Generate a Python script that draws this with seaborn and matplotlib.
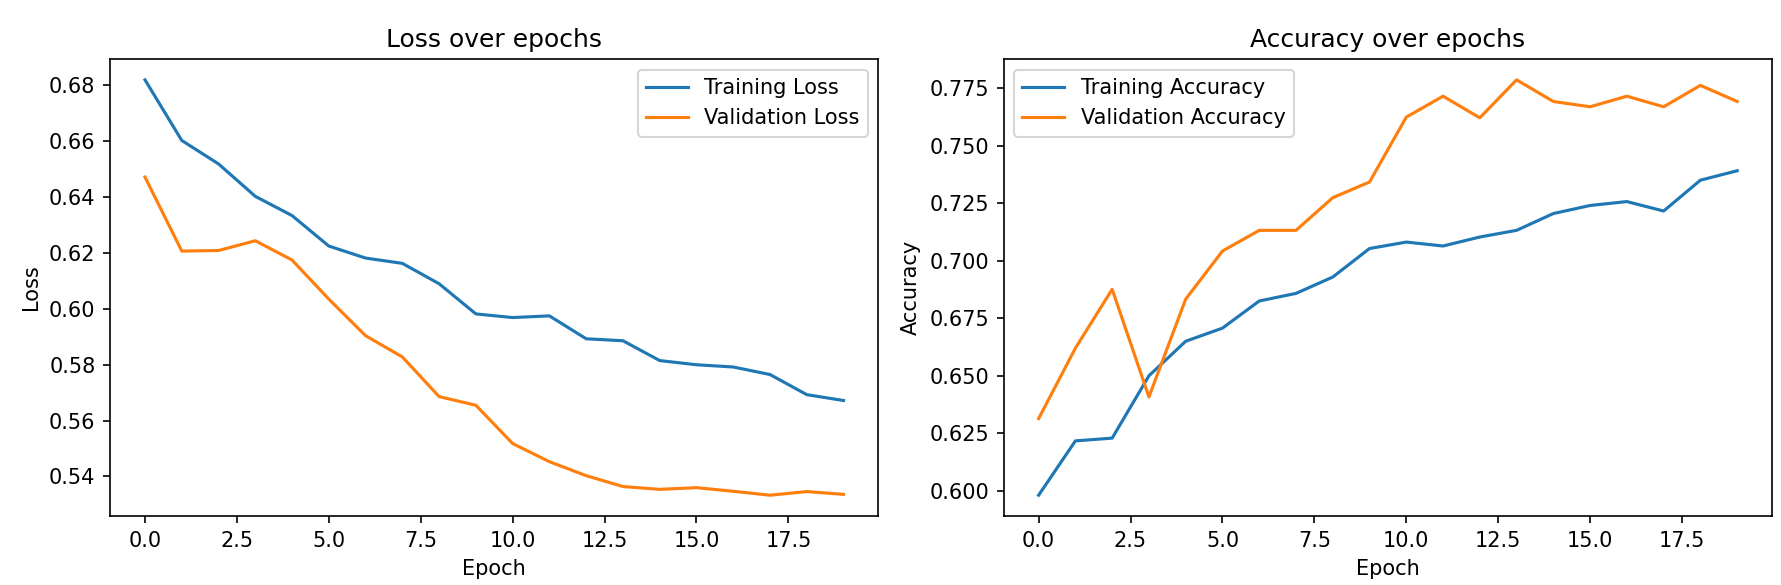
import numpy as np
import pandas as pd
import matplotlib
matplotlib.use('Agg')
import matplotlib.pyplot as plt
import seaborn as sns

epochs = list(range(20))

train_loss = [0.6820, 0.6603, 0.6519, 0.6403, 0.6334, 0.6225, 0.6182, 0.6163, 0.6090, 0.5982,
              0.5969, 0.5975, 0.5893, 0.5886, 0.5815, 0.5800, 0.5792, 0.5765, 0.5693, 0.5672]
val_loss = [0.6472, 0.6207, 0.6209, 0.6244, 0.6175, 0.6035, 0.5904, 0.5828, 0.5686, 0.5655,
            0.5518, 0.5453, 0.5403, 0.5364, 0.5354, 0.5360, 0.5347, 0.5333, 0.5346, 0.5336]

train_acc = [0.5981, 0.6217, 0.6229, 0.6500, 0.6650, 0.6707, 0.6825, 0.6858, 0.6929, 0.7053,
             0.7081, 0.7064, 0.7103, 0.7132, 0.7205, 0.7240, 0.7257, 0.7216, 0.7350, 0.7391]
val_acc = [0.6314, 0.6620, 0.6876, 0.6408, 0.6833, 0.7042, 0.7132, 0.7132, 0.7274, 0.7342,
           0.7624, 0.7715, 0.7621, 0.7786, 0.7692, 0.7669, 0.7715, 0.7669, 0.7762, 0.7692]

history = pd.DataFrame({
    'epoch': epochs,
    'loss': train_loss,
    'val_loss': val_loss,
    'accuracy': train_acc,
    'val_accuracy': val_acc,
})

fig, (ax1, ax2) = plt.subplots(1, 2, figsize=(1781 / 150, 585 / 150), dpi=150)

# Loss plot
sns.lineplot(data=history, x='epoch', y='loss', ax=ax1, color='tab:blue', label='Training Loss')
sns.lineplot(data=history, x='epoch', y='val_loss', ax=ax1, color='tab:orange', label='Validation Loss')
ax1.set_title('Loss over epochs')
ax1.set_xlabel('Epoch')
ax1.set_ylabel('Loss')
ax1.legend(loc='upper right')

# Accuracy plot
sns.lineplot(data=history, x='epoch', y='accuracy', ax=ax2, color='tab:blue', label='Training Accuracy')
sns.lineplot(data=history, x='epoch', y='val_accuracy', ax=ax2, color='tab:orange', label='Validation Accuracy')
ax2.set_title('Accuracy over epochs')
ax2.set_xlabel('Epoch')
ax2.set_ylabel('Accuracy')
ax2.legend(loc='upper left')

plt.subplots_adjust(left=0.0618, right=0.995, top=0.899, bottom=0.118, wspace=0.163)
plt.savefig('out.png', dpi=150)
